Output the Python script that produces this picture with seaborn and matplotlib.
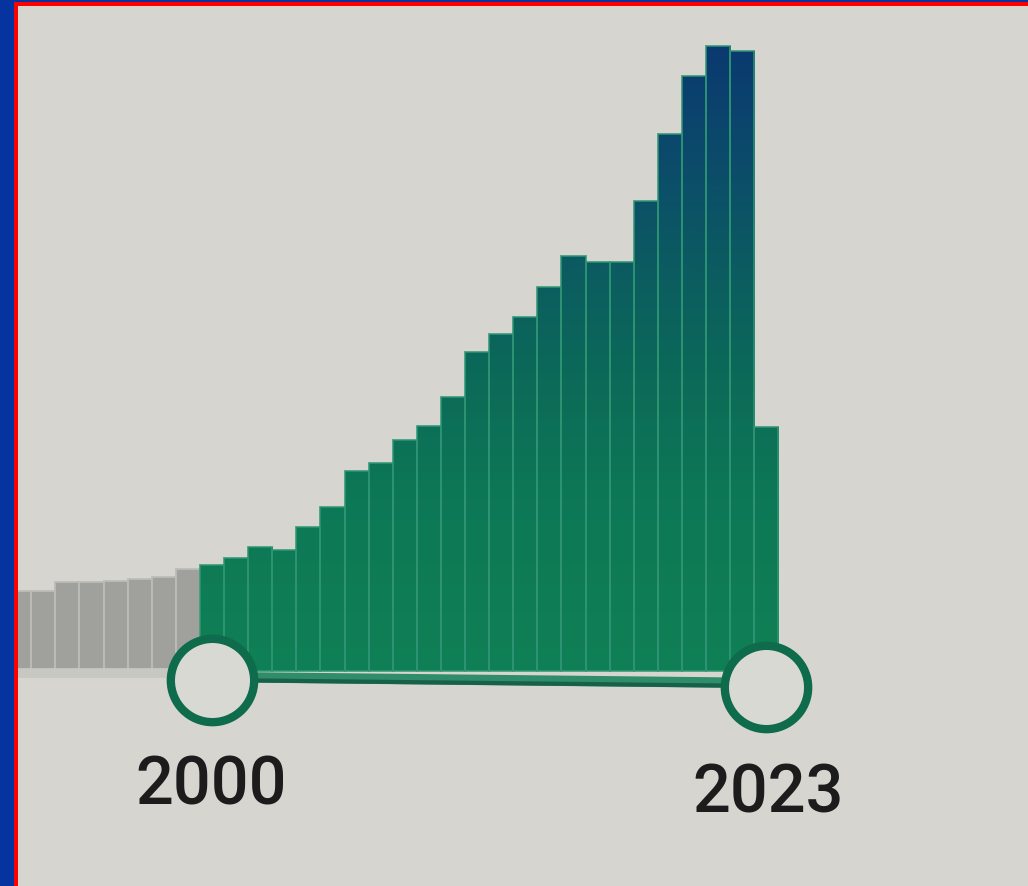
import numpy as np
import pandas as pd
import matplotlib
matplotlib.use("Agg")
import matplotlib.pyplot as plt
import seaborn as sns
from matplotlib.colors import LinearSegmentedColormap
from matplotlib.patches import Rectangle

# ---------------- data ----------------
years = list(range(1992, 2024))
counts = [80, 80, 89, 89, 90, 92, 94, 102,
          106, 113, 124, 121, 144, 164, 200, 208, 231, 245, 274, 319,
          337, 354, 384, 415, 409, 409, 470, 537, 595, 625, 620, 244]
start_year = 2000
end_year = 2023
start_label = "2000"
end_label = "2023"

# ---------------- style ----------------
sns.set_theme(style="white")
plt.rcParams['font.family'] = ['Roboto', 'Liberation Sans', 'DejaVu Sans']

BG = '#d6d5d0'
GREY_BAR = '#a0a09d'
GREY_EDGE = '#bcbcb8'
GREEN_EDGE = '#2f9574'
RING = '#0e6b4b'
HANDLE_FILL = '#d9d9d3'

df = pd.DataFrame({'year': years, 'count': counts})
df['sel'] = np.where((df['year'] >= start_year) & (df['year'] <= end_year), 'in', 'out')

fig = plt.figure(figsize=(10.28, 8.87), dpi=100)
fig.patch.set_facecolor(BG)
ax = fig.add_axes([0, 0, 1, 1])
ax.set_facecolor(BG)

sns.barplot(data=df, x='year', y='count', hue='sel',
            palette={'in': '#0f7d55', 'out': GREY_BAR},
            width=1.0, dodge=False, legend=False, ax=ax,
            saturation=1, linewidth=0, order=years)

ax.set_xlim(-0.797, 41.86)
ax.set_ylim(-215, 672)
ax.axis('off')

# vertical gradient for selected bars (green at bottom -> deep blue at top)
grad = LinearSegmentedColormap.from_list('g', [
    (0.00, (16/255, 128/255, 86/255)),
    (0.27, (13/255, 120/255, 85/255)),
    (0.43, (12/255, 108/255, 88/255)),
    (0.59, (11/255, 95/255, 94/255)),
    (0.75, (11/255, 80/255, 104/255)),
    (0.90, (11/255, 65/255, 110/255)),
    (1.00, (10/255, 55/255, 112/255)),
])
gimg = np.linspace(0, 1, 256).reshape(-1, 1)

for p in list(ax.patches):
    h = p.get_height()
    if not np.isfinite(h) or h <= 0:
        continue
    idx = int(round(p.get_x() + p.get_width() / 2))
    yr = years[idx]
    if start_year <= yr <= end_year:
        im = ax.imshow(gimg, cmap=grad, origin='lower', aspect='auto',
                       extent=[-1, 42, 0, 640], zorder=2, interpolation='bilinear')
        im.set_clip_path(p)
        p.set_zorder(3)
        p.set_facecolor('none')
        p.set_edgecolor(GREEN_EDGE)
        p.set_linewidth(1.3)
        p.set_alpha(0.85)
    else:
        p.set_edgecolor(GREY_EDGE)
        p.set_linewidth(1.3)

i0 = years.index(start_year)
i1 = years.index(end_year)

# slider track
ax.plot([-1, i0], [-2, -2], color='#c8c8c3', lw=7, solid_capstyle='butt', zorder=4)
ax.plot([i0, i1], [-6, -12], color='#2f8d6a', lw=7.5, solid_capstyle='butt', zorder=4)
ax.plot([i0, i1], [-9, -15], color='#17604a', lw=3, solid_capstyle='butt', zorder=4)

# handles
ax.scatter([i0, i1], [-9, -16], s=3600, facecolor=HANDLE_FILL, edgecolor=RING,
           linewidths=6, zorder=6)

# labels
ax.text(i0 - 0.05, -115, start_label, ha='center', va='center', fontsize=48,
        fontweight='medium', color='#1c1c1c', zorder=7)
ax.text(i1 + 0.07, -123, end_label, ha='center', va='center', fontsize=48,
        fontweight='medium', color='#1c1c1c', zorder=7)

# photo frame (blue + red)
W, H = 1028, 887
fig.patches.append(Rectangle((0, 0), 14 / W, 1, transform=fig.transFigure,
                             facecolor='#0533a0', edgecolor='none', zorder=10))
fig.patches.append(Rectangle((0, 1 - 3 / H), 1, 3 / H, transform=fig.transFigure,
                             facecolor='#0533a0', edgecolor='none', zorder=10))
fig.patches.append(Rectangle((14 / W, 0), 4 / W, 1 - 3 / H, transform=fig.transFigure,
                             facecolor='#ff0000', edgecolor='none', zorder=11))
fig.patches.append(Rectangle((14 / W, 1 - 7 / H), 1, 4 / H, transform=fig.transFigure,
                             facecolor='#ff0000', edgecolor='none', zorder=11))

fig.savefig('out.png', dpi=100, facecolor=BG)
